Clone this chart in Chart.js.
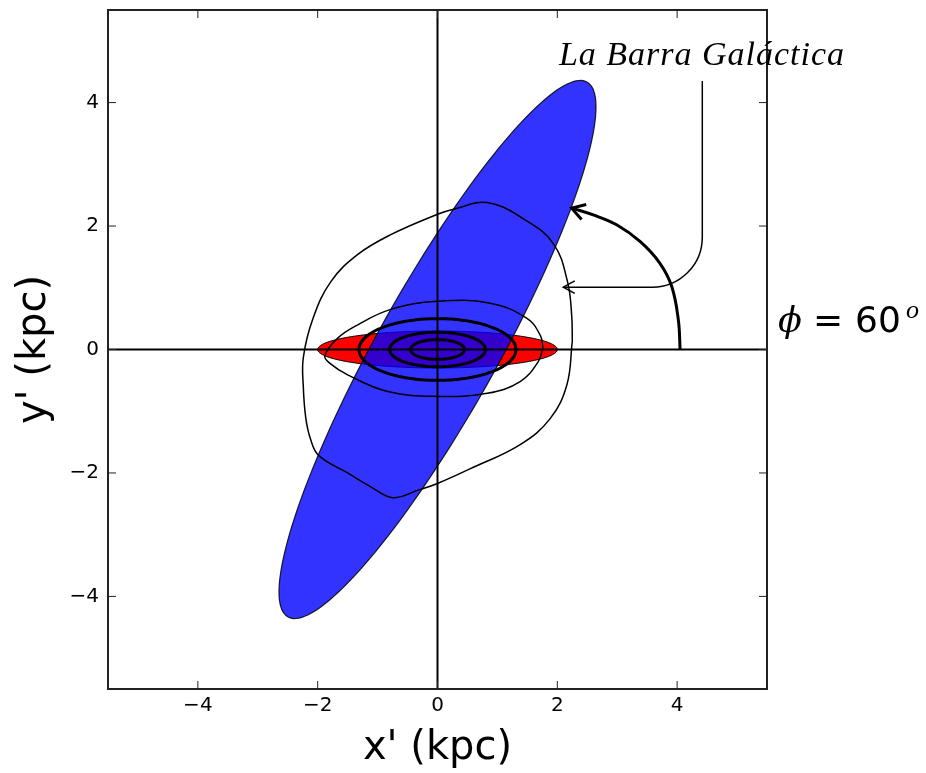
<!DOCTYPE html>
<html>
<head>
<meta charset="utf-8">
<script src="https://cdn.jsdelivr.net/npm/chart.js@4.4.0/dist/chart.umd.min.js"></script>
<style>
  html, body { margin: 0; padding: 0; background: #fff; }
  #wrap { width: 926px; height: 773px; }
</style>
</head>
<body>
<div id="wrap"><canvas id="grafico"></canvas></div>
<script>
// --- Datos (kpc) ---
const tickValues = [-4, -2, 0, 2, 4];
const axisRange = [-5.5, 5.5];

// Barra: semiejes y ángulo de inclinación (grados)
const barAxes = [5.0, 1.0];
const barAngle = 60;
// Bulbo central
const bulgeAxes = [2.0, 0.3];

// Órbitas elípticas internas (trazo grueso)
const orbitA = [0.45, 0.8, 1.31];
const orbitB = [0.16, 0.28, 0.5];

// Órbita exterior (trazo fino)
const outerOrbitX = [2.25, 2.24, 2.17, 1.93, 1.43, 0.83, 0.3, 0, -0.78, -1.33, -1.78, -2.08, -2.24, -2.24, -2.2, -2.12, -1.98, -1.5, -1.12, -0.75, -0.3, 0, 0.55, 1.38, 1.88, 2.16, 2.25];
const outerOrbitY = [0.13, 0.55, 1.1, 1.72, 2.12, 2.38, 2.28, 2.19, 1.86, 1.54, 1.1, 0.5, -0.13, -0.6, -1.1, -1.45, -1.72, -2.0, -2.22, -2.4, -2.27, -2.17, -1.93, -1.54, -1.12, -0.57, 0.13];

// Órbita intermedia (trazo fino)
const innerOrbitX = [1.76, 1.72, 1.5, 0.88, 0, -0.78, -1.33, -1.67, -1.88, -1.8, -1.5, -0.83, 0, 0.83, 1.38, 1.68, 1.76];
const innerOrbitY = [0.02, 0.22, 0.5, 0.75, 0.78, 0.65, 0.4, 0.18, -0.1, -0.22, -0.41, -0.68, -0.76, -0.71, -0.52, -0.2, 0.02];

// Arco del ángulo phi
const phiArcX = [4.05, 4.02, 3.91, 3.71, 3.38, 2.99, 2.6, 2.24];
const phiArcY = [0.0, 0.48, 1.02, 1.4, 1.75, 2.02, 2.18, 2.29];

// Flecha de la etiqueta de la barra
const labelArrowX = [4.42, 4.42, 2.1];
const labelArrowY = [4.35, 1.01, 1.01];

const toPoints = (xs, ys) => xs.map((x, i) => ({ x, y: ys[i] }));

// Traza una elipse rotada en coordenadas de datos
function traceEllipse(ctx, sx, sy, a, b, deg) {
  const t = deg * Math.PI / 180;
  ctx.beginPath();
  for (let k = 0; k <= 360; k += 2) {
    const p = k * Math.PI / 180;
    const u = a * Math.cos(p), v = b * Math.sin(p);
    const px = sx.getPixelForValue(u * Math.cos(t) - v * Math.sin(t));
    const py = sy.getPixelForValue(u * Math.sin(t) + v * Math.cos(t));
    if (k === 0) ctx.moveTo(px, py); else ctx.lineTo(px, py);
  }
  ctx.closePath();
}

function arrowHead(ctx, tx, ty, fx, fy, len, half) {
  const ang = Math.atan2(ty - fy, tx - fx);
  ctx.beginPath();
  ctx.moveTo(tx - len * Math.cos(ang - half), ty - len * Math.sin(ang - half));
  ctx.lineTo(tx, ty);
  ctx.lineTo(tx - len * Math.cos(ang + half), ty - len * Math.sin(ang + half));
  ctx.stroke();
}

const shapesPlugin = {
  id: 'formas',
  beforeDatasetsDraw(chart) {
    const { ctx, scales: { x, y } } = chart;
    ctx.save();
    // bulbo (rojo)
    traceEllipse(ctx, x, y, bulgeAxes[0], bulgeAxes[1], 0);
    ctx.fillStyle = '#ff0000';
    ctx.fill();
    ctx.lineWidth = 1;
    ctx.strokeStyle = '#000';
    ctx.stroke();
    // barra (azul translúcido)
    traceEllipse(ctx, x, y, barAxes[0], barAxes[1], barAngle);
    ctx.fillStyle = 'rgba(0, 0, 255, 0.8)';
    ctx.fill();
    ctx.lineWidth = 1.2;
    ctx.strokeStyle = 'rgba(0,0,0,0.85)';
    ctx.stroke();
    ctx.restore();
  },
  afterDatasetsDraw(chart) {
    const { ctx, chartArea: ca, scales: { x, y } } = chart;
    ctx.save();
    ctx.strokeStyle = '#000';

    // órbitas gruesas
    ctx.lineWidth = 3;
    orbitA.forEach((a, i) => {
      traceEllipse(ctx, x, y, a, orbitB[i], 0);
      ctx.stroke();
    });

    // ejes por el origen
    ctx.lineWidth = 2;
    ctx.beginPath();
    ctx.moveTo(x.getPixelForValue(0), ca.top);
    ctx.lineTo(x.getPixelForValue(0), ca.bottom);
    ctx.moveTo(ca.left, y.getPixelForValue(0));
    ctx.lineTo(ca.right, y.getPixelForValue(0));
    ctx.stroke();

    // marco y marcas hacia dentro
    ctx.lineWidth = 2;
    ctx.strokeStyle = '#222';
    ctx.strokeRect(ca.left, ca.top, ca.right - ca.left, ca.bottom - ca.top);
    ctx.lineWidth = 1;
    ctx.beginPath();
    tickValues.forEach(v => {
      const px = x.getPixelForValue(v), py = y.getPixelForValue(v);
      ctx.moveTo(px, ca.bottom); ctx.lineTo(px, ca.bottom - 8);
      ctx.moveTo(px, ca.top); ctx.lineTo(px, ca.top + 8);
      ctx.moveTo(ca.left, py); ctx.lineTo(ca.left + 8, py);
      ctx.moveTo(ca.right, py); ctx.lineTo(ca.right - 8, py);
    });
    ctx.stroke();

    // punta del arco phi
    ctx.strokeStyle = '#000';
    const arc = chart.getDatasetMeta(2).data;
    const n = arc.length;
    ctx.lineWidth = 3;
    arrowHead(ctx, arc[n - 1].x, arc[n - 1].y, arc[n - 2].x, arc[n - 2].y, 15, 0.55);

    // flecha de la etiqueta
    const ax = labelArrowX.map(v => x.getPixelForValue(v));
    const ay = labelArrowY.map(v => y.getPixelForValue(v));
    ctx.lineWidth = 1.5;
    ctx.beginPath();
    ctx.moveTo(ax[0], ay[0]);
    ctx.arcTo(ax[1], ay[1], ax[2], ay[2], 50);
    ctx.lineTo(ax[2], ay[2]);
    ctx.stroke();
    arrowHead(ctx, ax[2], ay[2], ax[2] + 20, ay[2], 13, 0.5);

    // textos
    ctx.fillStyle = '#000';
    ctx.textBaseline = 'alphabetic';
    ctx.textAlign = 'center';
    ctx.font = 'italic 34px "Liberation Serif"';
    ctx.letterSpacing = '1px';
    ctx.fillText('La Barra Galáctica', 702, 65);
    ctx.letterSpacing = '0px';

    ctx.textAlign = 'left';
    const base = y.getPixelForValue(0) - 18;
    ctx.font = 'italic 35px "DejaVu Serif"';
    ctx.fillText('\u03d5', ca.right + 11, base);
    ctx.font = '36px "DejaVu Sans"';
    ctx.fillText('=', ca.right + 46, base);
    ctx.fillText('60', ca.right + 88, base);
    ctx.font = 'italic 26px "Liberation Serif"';
    ctx.fillText('o', ca.right + 139, base - 14);
    ctx.restore();
  }
};

const lineStyle = { showLine: true, pointRadius: 0, borderColor: '#000', fill: false, tension: 0.4 };
const fmtTick = v => String(v).replace('-', '\u2212');

new Chart(document.getElementById('grafico'), {
  type: 'scatter',
  data: {
    datasets: [
      { ...lineStyle, data: toPoints(outerOrbitX, outerOrbitY), borderWidth: 1.5 },
      { ...lineStyle, data: toPoints(innerOrbitX, innerOrbitY), borderWidth: 1.5 },
      { ...lineStyle, data: toPoints(phiArcX, phiArcY), borderWidth: 3, tension: 0.4 }
    ]
  },
  options: {
    responsive: true,
    maintainAspectRatio: false,
    animation: false,
    events: [],
    layout: { padding: { left: 0, top: 10, right: 159, bottom: 0 } },
    plugins: { legend: { display: false }, tooltip: { enabled: false } },
    scales: {
      x: {
        type: 'linear', min: axisRange[0], max: axisRange[1],
        afterBuildTicks: s => { s.ticks = tickValues.map(v => ({ value: v })); },
        afterFit: s => { s.height = 84; s.paddingLeft = 0; s.paddingRight = 0; },
        grid: { display: false, drawTicks: false },
        border: { display: false },
        ticks: { color: '#000', padding: 5, font: { family: 'DejaVu Sans', size: 20 }, callback: fmtTick },
        title: { display: true, text: "x' (kpc)", color: '#000', padding: 0,
                 font: { family: 'DejaVu Sans', size: 40 } }
      },
      y: {
        type: 'linear', min: axisRange[0], max: axisRange[1],
        afterBuildTicks: s => { s.ticks = tickValues.map(v => ({ value: v })); },
        afterFit: s => { s.width = 108; s.paddingTop = 0; s.paddingBottom = 0; },
        grid: { display: false, drawTicks: false },
        border: { display: false },
        ticks: { color: '#000', padding: 9, font: { family: 'DejaVu Sans', size: 20 }, callback: fmtTick },
        title: { display: true, text: "y' (kpc)", color: '#000', padding: { top: 11, bottom: 0 },
                 font: { family: 'DejaVu Sans', size: 40 } }
      }
    }
  },
  plugins: [shapesPlugin]
});
</script>
</body>
</html>
